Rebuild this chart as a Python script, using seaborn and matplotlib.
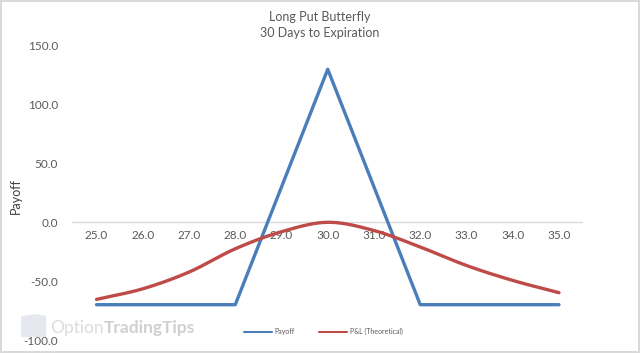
import matplotlib
matplotlib.use("Agg")
import matplotlib.pyplot as plt
import seaborn as sns
import pandas as pd
import numpy as np

sns.set_theme(style="white")
plt.rcParams["font.family"] = ["Lato", "DejaVu Sans"]

strikes = [25.0, 26.0, 27.0, 28.0, 29.0, 30.0, 31.0, 32.0, 33.0, 34.0, 35.0]
payoff = [-70, -70, -70, -70, 30, 130, 30, -70, -70, -70, -70]
pnl_theoretical = [-65.5, -56.5, -42.3, -22.5, -8.0, 0.0, -7.0, -21.0, -36.7, -49.4, -59.8]
y_ticks = [-100, -50, 0, 50, 100, 150]

text_col = "#595959"
blue = "#4a7ebb"
red = "#be4b48"


def smooth(xs, ys, n=20):
    # Excel-style smoothed line through the points (Catmull-Rom)
    xs = np.asarray(xs, float)
    ys = np.asarray(ys, float)
    px = np.concatenate([[2 * xs[0] - xs[1]], xs, [2 * xs[-1] - xs[-2]]])
    py = np.concatenate([[2 * ys[0] - ys[1]], ys, [2 * ys[-1] - ys[-2]]])
    out_x, out_y = [], []
    t = np.linspace(0, 1, n, endpoint=False)
    for i in range(1, len(px) - 2):
        for p, o in ((px, out_x), (py, out_y)):
            p0, p1, p2, p3 = p[i - 1], p[i], p[i + 1], p[i + 2]
            o.extend(0.5 * (2 * p1 + (-p0 + p2) * t + (2 * p0 - 5 * p1 + 4 * p2 - p3) * t ** 2
                            + (-p0 + 3 * p1 - 3 * p2 + p3) * t ** 3))
    out_x.append(xs[-1])
    out_y.append(ys[-1])
    return np.array(out_x), np.array(out_y)


df = pd.DataFrame({"strike": strikes, "payoff": payoff})
sx, sy = smooth(strikes, pnl_theoretical)
smooth_df = pd.DataFrame({"strike": sx, "pnl": sy})

fig = plt.figure(figsize=(6.4, 3.53), dpi=100)
fig.patch.set_edgecolor("#d9d9d9")
fig.patch.set_linewidth(1.5)
ax = fig.add_axes([0.1125, 0.0368, 0.7985, 0.8337])

ax.axhline(0, color="#d9d9d9", lw=1, zorder=1)
sns.lineplot(data=df, x="strike", y="payoff", ax=ax, color=blue, lw=2.4,
             label="Payoff", zorder=3)
sns.lineplot(data=smooth_df, x="strike", y="pnl", ax=ax, color=red, lw=2.4,
             label="P&L (Theoretical)", zorder=4, sort=False)

ax.set_xlim(24.47, 35.52)
ax.set_ylim(-100, 150)
ax.set_yticks(y_ticks)
ax.set_yticklabels([f"{v:.1f}" for v in y_ticks], color=text_col, fontsize=8.5)
ax.set_xticks([])
for s in strikes:
    ax.text(s, -11, f"{s:.1f}", ha="center", va="center", color=text_col, fontsize=8.5)
ax.tick_params(axis="y", length=0, pad=10)
for sp in ax.spines.values():
    sp.set_visible(False)
ax.set_xlabel("")
ax.set_ylabel("Payoff", color="#404040", fontsize=9)
ax.yaxis.set_label_coords(-0.098, 0.489)

fig.text(0.5, 0.952, "Long Put Butterfly", ha="center", va="center", color=text_col, fontsize=9)
fig.text(0.5, 0.906, "30 Days to Expiration", ha="center", va="center", color=text_col, fontsize=9)

# watermark
logo = plt.Polygon([[0.033, 0.045], [0.072, 0.045], [0.072, 0.105], [0.058, 0.11],
                    [0.033, 0.105]], closed=True, transform=fig.transFigure,
                   facecolor="#e6e8ef", edgecolor="none", zorder=0)
fig.patches.append(logo)
fig.text(0.078, 0.072, "Option", color="#dcdcdc", fontsize=12.5, va="center", ha="left")
fig.text(0.162, 0.072, "TradingTips", color="#d0d0d0", fontsize=12.5, va="center", ha="left",
         fontweight="bold")

leg = ax.legend(loc="center", bbox_to_anchor=(0.505, 0.06), bbox_transform=fig.transFigure,
                ncol=2, frameon=False, fontsize=5, handlelength=4, columnspacing=3.5,
                handletextpad=0.4, labelcolor=text_col)
for line in leg.get_lines():
    line.set_linewidth(1.5)

fig.savefig("out.png", dpi=100)
